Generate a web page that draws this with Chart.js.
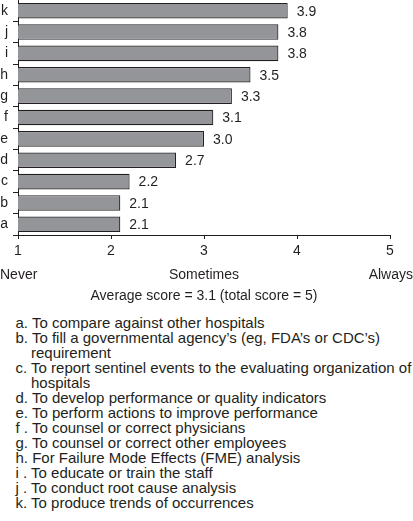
<!DOCTYPE html>
<html lang="en">
<head>
<meta charset="UTF-8">
<title>Average score</title>
<script src="https://cdn.jsdelivr.net/npm/chart.js"></script>
<style>
body {
  margin: 0;
  padding: 0;
  background: #fff;
  width: 413px;
  height: 521px;
  overflow: hidden;
  font-family: "Liberation Sans", Arial, sans-serif;
  color: #231f20;
}
#wrap {
  position: absolute;
  left: 0;
  top: 0;
  width: 413px;
  height: 305px;
}
#reasons {
  position: absolute;
  left: 15.5px;
  top: 315px;
  width: 397.5px;
  margin: 0;
  padding: 0;
  list-style: none;
  font-size: 15px;
  line-height: 15px;
}
#reasons li {
  padding-left: 15.5px;
  text-indent: -15.5px;
}
</style>
</head>
<body>
<div id="wrap"><canvas id="scoreChart" width="413" height="305"></canvas></div>
<ul id="reasons"></ul>

<script>
// chart data
const categories = ['a', 'b', 'c', 'd', 'e', 'f', 'g', 'h', 'i', 'j', 'k'];
const scores = [2.1, 2.1, 2.2, 2.7, 3.0, 3.1, 3.3, 3.5, 3.8, 3.8, 3.9];
const scaleTicks = [1, 2, 3, 4, 5];
const scaleWords = ['Never', '', 'Sometimes', '', 'Always'];
const axisTitle = 'Average score = 3.1 (total score = 5)';

// key below the chart
const listLetters = ['a.', 'b.', 'c.', 'd.', 'e.', 'f .', 'g.', 'h.', 'i .', 'j .', 'k.'];
const reasons = [
  'To compare against other hospitals',
  'To fill a governmental agency\u2019s (eg, FDA\u2019s or CDC\u2019s) requirement',
  'To report sentinel events to the evaluating organization of hospitals',
  'To develop performance or quality indicators',
  'To perform actions to improve performance',
  'To counsel or correct physicians',
  'To counsel or correct other employees',
  'For Failure Mode Effects (FME) analysis',
  'To educate or train the staff',
  'To conduct root cause analysis',
  'To produce trends of occurrences'
];

const ink = '#231f20';
const fontFamily = '"Liberation Sans", Arial, sans-serif';
Chart.defaults.font.family = fontFamily;
Chart.defaults.color = ink;

const list = document.getElementById('reasons');
reasons.forEach((r, i) => {
  const li = document.createElement('li');
  li.textContent = listLetters[i] + ' ' + r;
  list.appendChild(li);
});

// numbers at the end of the bars
const valueLabels = {
  id: 'valueLabels',
  afterDatasetsDraw(chart) {
    const ctx = chart.ctx;
    const meta = chart.getDatasetMeta(0);
    ctx.save();
    ctx.font = '14px ' + fontFamily;
    ctx.fillStyle = ink;
    ctx.textAlign = 'left';
    ctx.textBaseline = 'middle';
    meta.data.forEach((bar, i) => {
      ctx.fillText(scores[i].toFixed(1), bar.x + 9, bar.y + 1);
    });
    ctx.restore();
  }
};

// Never / Sometimes / Always under the tick numbers
const scaleWordLabels = {
  id: 'scaleWordLabels',
  afterDraw(chart) {
    const ctx = chart.ctx;
    const x = chart.scales.x;
    const y = chart.chartArea.bottom + 40;
    ctx.save();
    ctx.font = '14px ' + fontFamily;
    ctx.fillStyle = ink;
    ctx.textBaseline = 'middle';
    scaleWords.forEach((w, i) => {
      if (!w) return;
      let px = x.getPixelForValue(scaleTicks[i]);
      if (i === 0) {
        ctx.textAlign = 'left';
        px = 0;
      } else if (i === scaleWords.length - 1) {
        ctx.textAlign = 'right';
        px = chart.width;
      } else {
        ctx.textAlign = 'center';
      }
      ctx.fillText(w, px, y);
    });
    ctx.restore();
  }
};

const ctx = document.getElementById('scoreChart').getContext('2d');
new Chart(ctx, {
  type: 'bar',
  data: {
    labels: categories,
    datasets: [{
      data: scores,
      backgroundColor: '#939598',
      borderColor: ink,
      borderWidth: 1.2,
      barPercentage: 0.73,
      categoryPercentage: 1
    }]
  },
  options: {
    indexAxis: 'y',
    responsive: false,
    animation: false,
    layout: { padding: { top: 0, right: 23, bottom: 0, left: 0 } },
    plugins: {
      legend: { display: false },
      tooltip: { enabled: false }
    },
    scales: {
      x: {
        type: 'linear',
        min: 1,
        max: 5,
        ticks: { stepSize: 1, padding: 4, font: { size: 14 }, color: ink },
        grid: { drawOnChartArea: false, tickLength: 4, color: ink },
        border: { color: ink, width: 1 },
        title: { display: true, text: axisTitle, font: { size: 14 }, color: ink, padding: 0 },
        afterFit: (s) => { s.height = 70; s.paddingLeft = 0; s.paddingRight = 0; }
      },
      y: {
        reverse: true,
        ticks: { padding: 5, font: { size: 14 }, color: ink },
        grid: { drawOnChartArea: false, tickLength: 5, color: ink, offset: true },
        border: { color: ink, width: 1 },
        afterFit: (s) => { s.width = 18; s.paddingTop = 0; s.paddingBottom = 0; }
      }
    }
  },
  plugins: [valueLabels, scaleWordLabels]
});
</script>
</body>
</html>
